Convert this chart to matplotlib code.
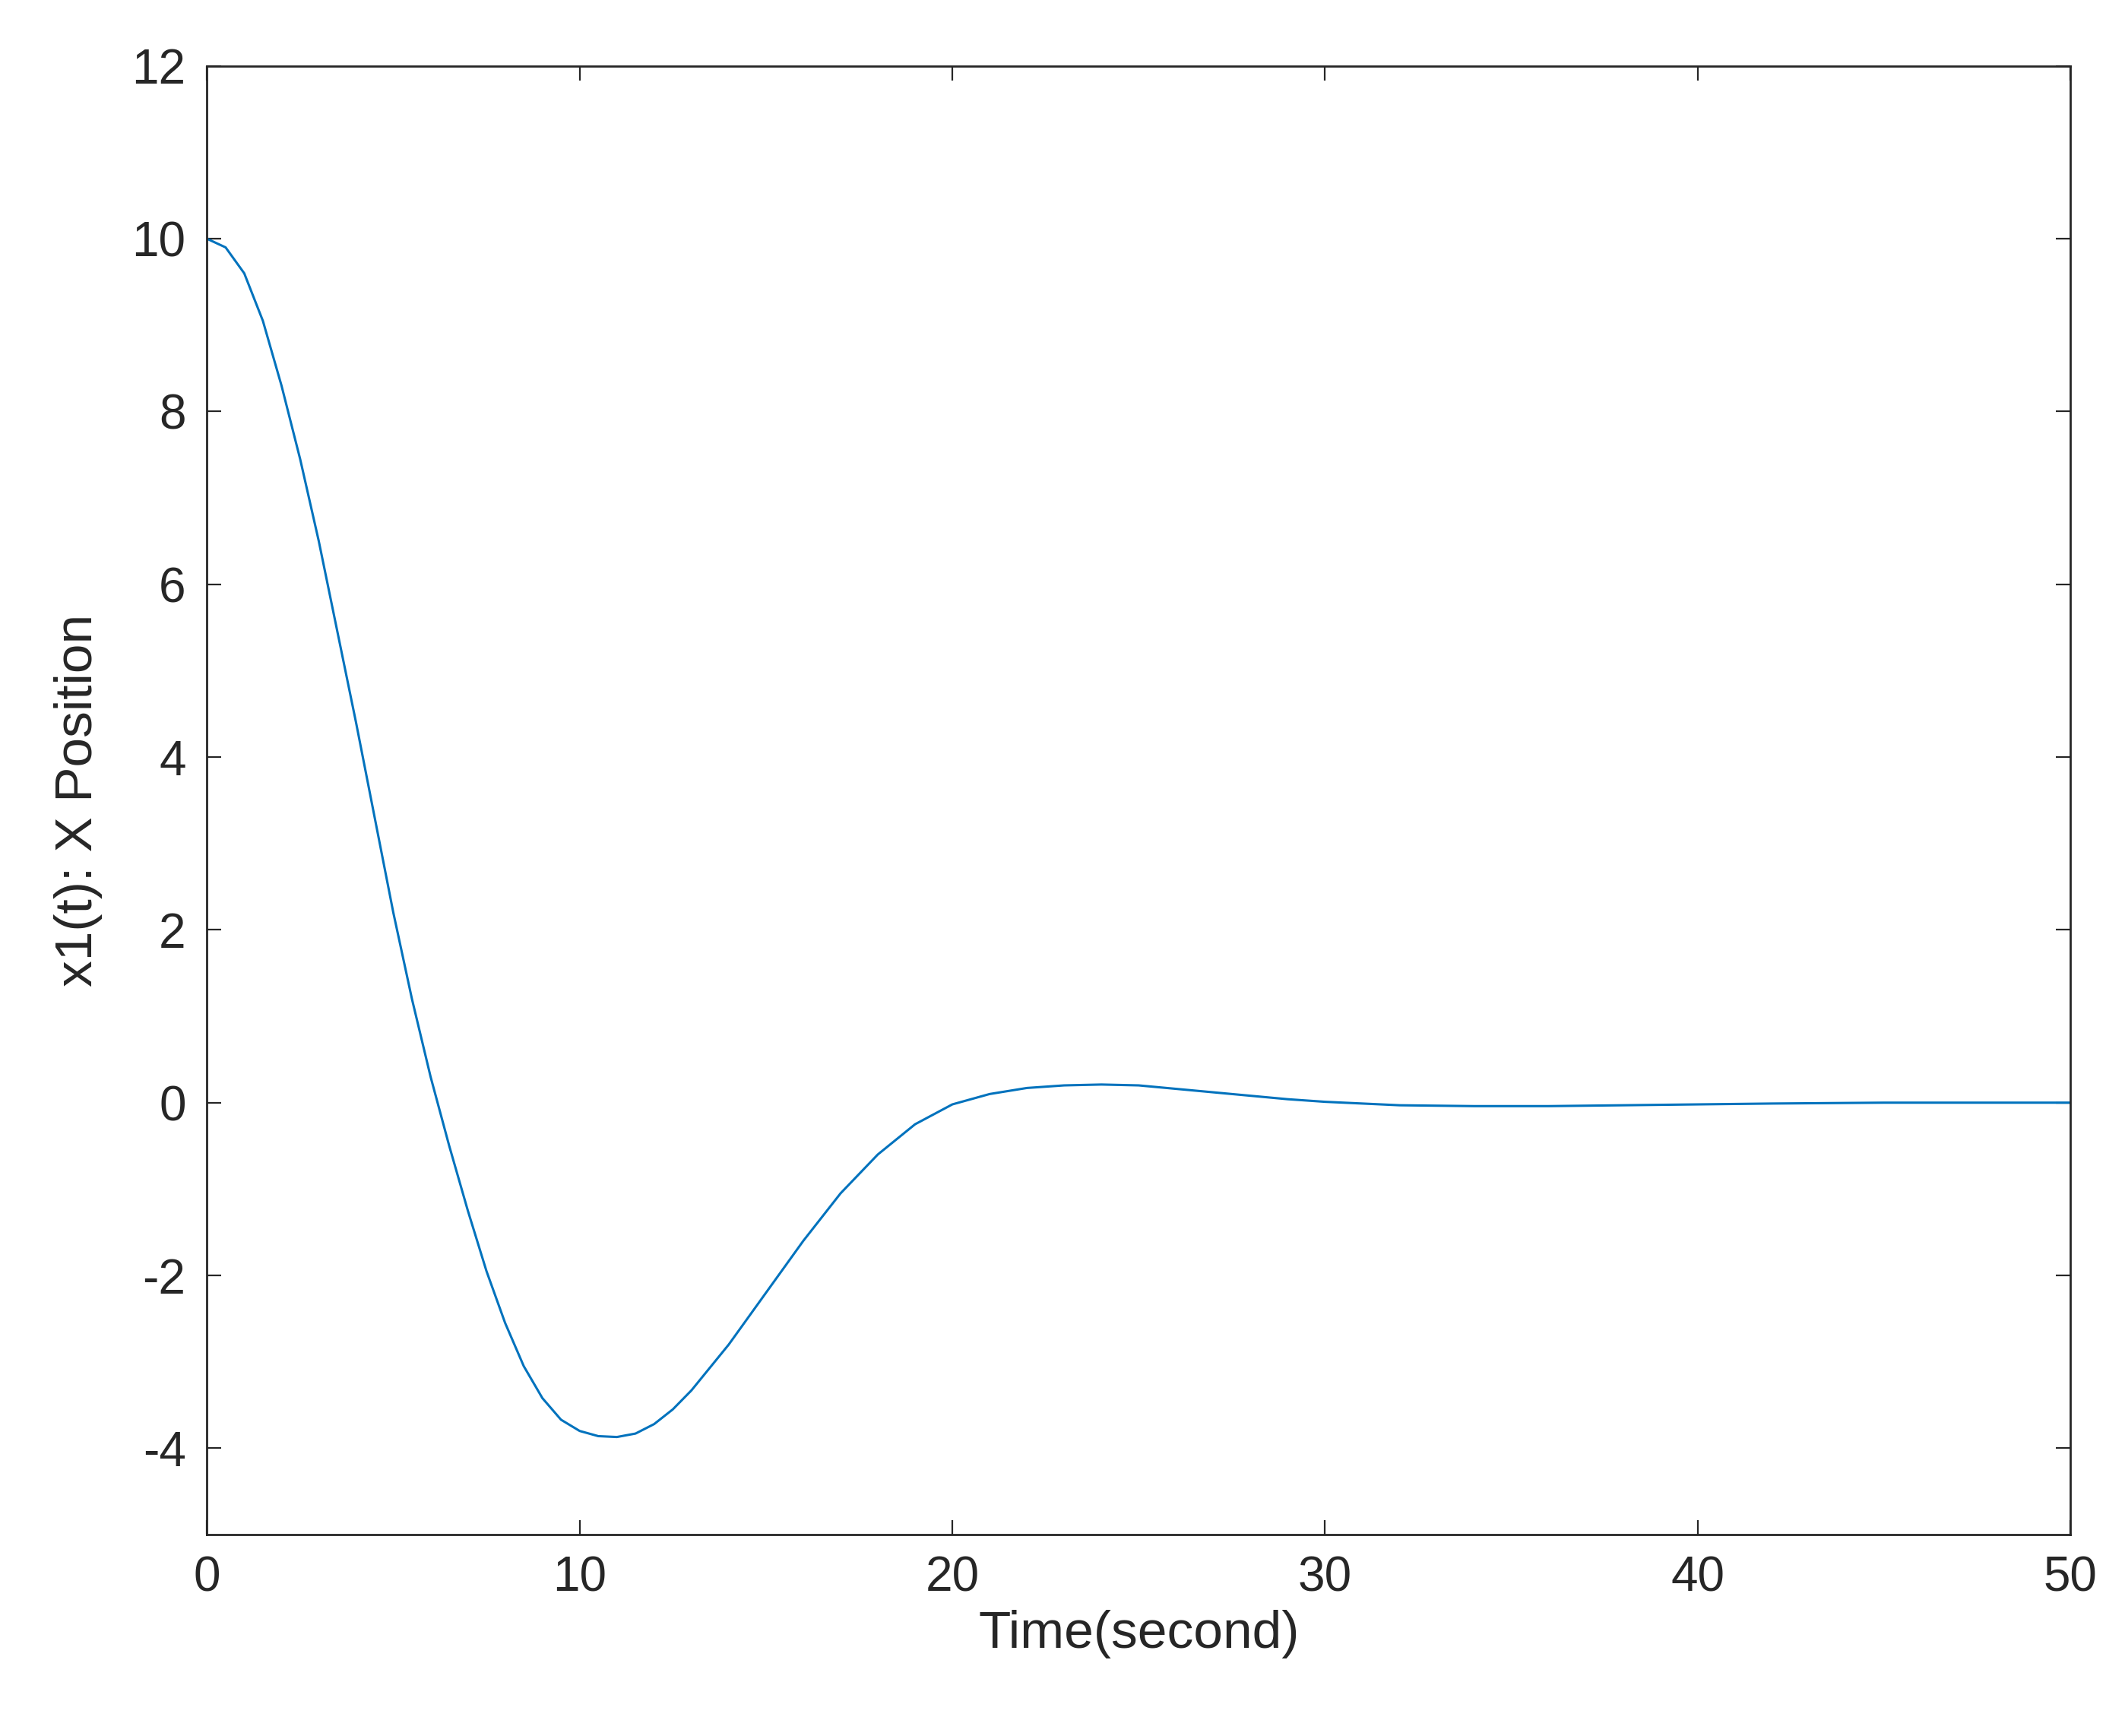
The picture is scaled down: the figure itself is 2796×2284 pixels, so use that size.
import matplotlib
matplotlib.use("Agg")
import matplotlib.pyplot as plt

t = [0, 0.5, 1, 1.5, 2, 2.5, 3, 3.5, 4, 4.5, 5, 5.5, 6, 6.5, 7, 7.5, 8, 8.5, 9, 9.5, 10, 10.5, 11, 11.5, 12, 12.5, 13, 14, 15, 16, 17, 18, 19, 20, 21, 22, 23, 24, 25, 26, 27, 28, 29, 30, 32, 34, 36, 38, 40, 42, 45, 50]
x1 = [10, 9.9, 9.6, 9.05, 8.3, 7.45, 6.5, 5.45, 4.4, 3.3, 2.2, 1.2, 0.3, -0.5, -1.25, -1.95, -2.55, -3.05, -3.42, -3.67, -3.8, -3.86, -3.87, -3.83, -3.72, -3.55, -3.33, -2.8, -2.2, -1.6, -1.05, -0.6, -0.25, -0.02, 0.1, 0.17, 0.2, 0.21, 0.2, 0.16, 0.12, 0.08, 0.04, 0.01, -0.03, -0.04, -0.04, -0.03, -0.02, -0.01, 0.0, 0.0]

plt.rcParams['font.family'] = ['Liberation Sans', 'DejaVu Sans']
plt.rcParams['axes.unicode_minus'] = False
fig = plt.figure(figsize=(13.98, 11.42), dpi=200)
ax = fig.add_axes([0.0974, 0.116, 0.8769, 0.846])
ax.plot(t, x1, color='#0072BD', lw=1.1)
ax.set_xlim(0, 50)
ax.set_ylim(-5, 12)
ax.set_xticks(range(0, 51, 10))
ax.set_yticks(range(-4, 13, 2))
ax.tick_params(direction='in', top=True, right=True, labelsize=23, colors='#262626', length=7, pad=10)
for s in ax.spines.values():
    s.set_color('#262626')
    s.set_linewidth(1.0)
ax.set_xlabel('Time(second)', fontsize=25, color='#262626', labelpad=4)
ax.set_ylabel('x1(t): X Position', fontsize=25, color='#262626', labelpad=14)
fig.savefig('out.png', dpi=200, facecolor='white')
